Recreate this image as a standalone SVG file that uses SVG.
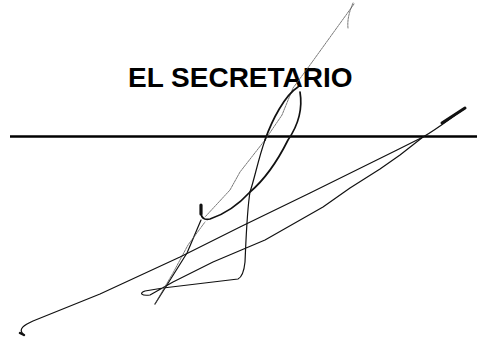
<svg xmlns="http://www.w3.org/2000/svg" width="477" height="338" viewBox="0 0 477 338">
<style>
.title{font-family:"Liberation Sans",Arial,sans-serif;font-weight:bold;font-size:28px;fill:#000}
.rule{stroke:#000;stroke-width:2.5;fill:none}
.ink{stroke:#111;fill:none;stroke-linecap:round;stroke-linejoin:round}
.bold{stroke-width:1.7}
.mid{stroke-width:1.2}
.thin{stroke:#555;stroke-width:0.8;stroke-dasharray:2 1}
</style>
<rect width="477" height="338" fill="#fff"/>
<text class="title" x="128" y="87">EL SECRETARIO</text>
<line class="rule" x1="10" y1="136.5" x2="477" y2="136.5"/>
<g id="signature">
<path class="ink thin" d="M353,3 C350,10 347,19 348,28"/>
<path class="ink thin" d="M354,4 L310,65 L293,88 L282,115 L265,140 L240,172 L230,190 L205,217"/>
<path class="ink bold" d="M298,87 C285,95 272,120 265,140"/>
<path class="ink mid" d="M265,140 C258,160 255,177 250,192 C247,210 246,240 245,262 C244,272 242,277 238,279 L163,288 L145,291 C139,293 141,296 150,295 L173,282 L213,262 L265,240 L323,207 L350,188 L380,169 L400,155 L423,137"/>
<path class="ink bold" d="M300,92 C303,110 297,127 288,140 C282,152 270,175 250,192 C240,203 228,213 210,219 C205,220 202,219 201,214"/>
<path class="ink" stroke-width="3.2" d="M201,214 L201,205"/>
<path class="ink mid" d="M201,220 L187,253 L155,304"/>
<path class="ink thin" d="M155,304 L163,290 L173,273 L188,245 L205,222"/>
<path class="ink mid" d="M23,334 C18,329 24,325 33,321 L100,294 L180,257 L240,227 L310,193 L397,150 L423,137 C440,127 452,117 464,109"/>
<path class="ink" stroke-width="3" d="M442,123 L465,108"/>
<path class="ink" stroke-width="2.5" d="M20,333 L24,335"/>
</g>
</svg>
